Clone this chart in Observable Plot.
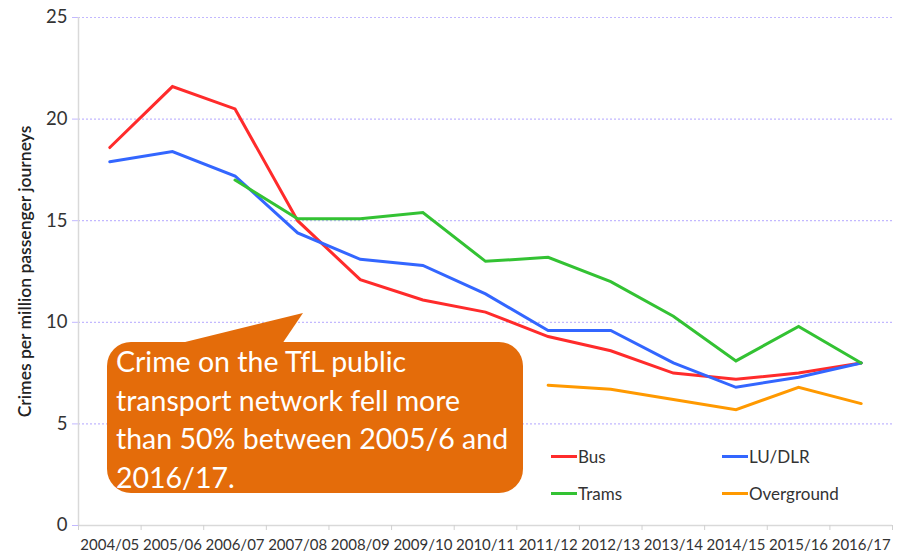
<!DOCTYPE html>
<html>
<head>
<meta charset="utf-8">
<script src="https://cdn.jsdelivr.net/npm/d3@7"></script>
<script src="https://cdn.jsdelivr.net/npm/@observablehq/plot@0.6"></script>
<style>
  html, body { margin: 0; padding: 0; background: #fff; }
  #wrap { position: relative; width: 903px; height: 556px; font-family: Lato, "Open Sans", sans-serif; }
  #callout { position: absolute; left: 107px; top: 342px; width: 416px; height: 151px;
    background: #e46c0a; border-radius: 24px; color: #fff; font-size: 28.5px; line-height: 38.5px;
    box-sizing: border-box; padding: 0 0 0 9px; white-space: nowrap; }
  #pointer { position: absolute; left: 0; top: 0; pointer-events: none; }
  .leg { position: absolute; font-size: 17px; color: #333; display: flex; align-items: center; }
  .leg span.sw { display: inline-block; width: 26px; height: 3px; margin-right: 1px; }
</style>
</head>
<body>
<div id="wrap"></div>
<script>
const years = ["2004/05","2005/06","2006/07","2007/08","2008/09","2009/10","2010/11","2011/12","2012/13","2013/14","2014/15","2015/16","2016/17"];
const bus        = [18.6, 21.6, 20.5, 15.0, 12.1, 11.1, 10.5, 9.3, 8.6, 7.5, 7.2, 7.5, 8.0];
const luDlr      = [17.9, 18.4, 17.2, 14.4, 13.1, 12.8, 11.4, 9.6, 9.6, 8.0, 6.8, 7.3, 8.0];
const trams      = [null, null, 17.0, 15.1, 15.1, 15.4, 13.0, 13.2, 12.0, 10.3, 8.1, 9.8, 8.0];
const overground = [null, null, null, null, null, null, null, 6.9, 6.7, 6.2, 5.7, 6.8, 6.0];
const seriesNames = ["Bus", "LU/DLR", "Trams", "Overground"];
const seriesColors = ["#ff2b2b", "#3366ff", "#33c233", "#ff9900"];
const yTicks = [0, 5, 10, 15, 20, 25];
const yTitle = "Crimes per million passenger journeys";
const calloutLines = ["Crime on the TfL public", "transport network fell more", "than 50% between 2005/6 and", "2016/17."];

const seriesValues = [bus, luDlr, trams, overground];
const rows = [];
seriesValues.forEach((vals, s) => vals.forEach((v, i) => {
  if (v != null) rows.push({series: seriesNames[s], i, value: v});
}));

const chart = Plot.plot({
  width: 903, height: 556,
  marginLeft: 78, marginRight: 11, marginTop: 17, marginBottom: 31,
  style: {fontFamily: "Lato, 'Open Sans', sans-serif", background: "#fff", color: "#333"},
  x: {type: "linear", domain: [-0.5, years.length - 0.5], label: null},
  y: {domain: [0, 25], label: null},
  color: {domain: seriesNames, range: seriesColors},
  marks: [
    Plot.ruleY(yTicks.filter(d => d > 0), {stroke: "#c2b8ff", strokeDasharray: "2,2", strokeWidth: 1.2}),
    Plot.axisY({ticks: yTicks, tickSize: 6, tickPadding: 5, fontSize: 18.5, stroke: "#c2b8ff", label: null}),
    Plot.ruleX([-0.5], {stroke: "#d9d9d9", strokeWidth: 1.5}),
    Plot.ruleY([0], {stroke: "#d9d9d9", strokeWidth: 1.5}),
    Plot.axisX({ticks: d3.range(-0.5, years.length, 1), tickFormat: () => "", tickSize: 5, stroke: "#d0d0d0", label: null}),
    Plot.axisX({ticks: d3.range(years.length), tickFormat: i => years[i], tickSize: 0, tickPadding: 14, fontSize: 15, label: null}),
    Plot.text([yTitle], {frameAnchor: "left", textAnchor: "middle", rotate: -90, dx: -53, fontSize: 17.5, fill: "#222", fontWeight: 600}),
    Plot.lineY(rows, {x: "i", y: "value", z: "series", stroke: "series", strokeWidth: 3, strokeLinejoin: "miter", strokeMiterlimit: 3})
  ]
});

const wrap = document.getElementById("wrap");
wrap.appendChild(chart);

// callout pointer and box (annotation)
const ns = "http://www.w3.org/2000/svg";
const ptr = document.createElementNS(ns, "svg");
ptr.setAttribute("id", "pointer");
ptr.setAttribute("width", 903); ptr.setAttribute("height", 556);
const poly = document.createElementNS(ns, "polygon");
poly.setAttribute("points", "177,344 303,313 282,344");
poly.setAttribute("fill", "#e46c0a");
ptr.appendChild(poly);
wrap.appendChild(ptr);

const box = document.createElement("div");
box.id = "callout";
box.innerHTML = calloutLines.join("<br>");
wrap.appendChild(box);

// legend
const legPos = [[551, 446], [722, 446], [551, 483], [722, 483]];
seriesNames.forEach((name, k) => {
  const d = document.createElement("div");
  d.className = "leg";
  d.style.left = legPos[k][0] + "px";
  d.style.top = legPos[k][1] + "px";
  d.innerHTML = `<span class="sw" style="background:${seriesColors[k]}"></span>${name}`;
  wrap.appendChild(d);
});
</script>
</body>
</html>
